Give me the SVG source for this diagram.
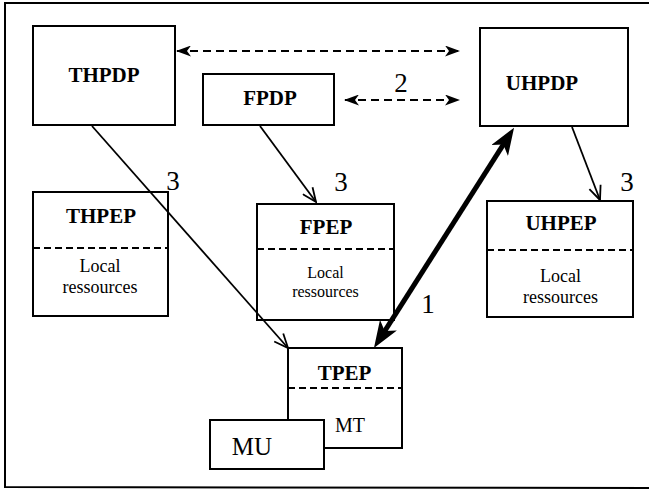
<svg xmlns="http://www.w3.org/2000/svg" width="649" height="490" viewBox="0 0 649 490">
<style>
.box{fill:#fff;stroke:#000;stroke-width:2}
.sep{stroke:#000;stroke-width:2;stroke-dasharray:7,4;fill:none}
.b{font-family:"Liberation Serif",serif;font-weight:bold;font-size:21px;text-anchor:middle;fill:#000}
.r{font-family:"Liberation Serif",serif;font-size:18px;text-anchor:middle;fill:#000}
.n{font-family:"Liberation Serif",serif;font-size:27px;text-anchor:middle;fill:#000}
.thin{stroke:#000;stroke-width:1.8;fill:none;marker-end:url(#open)}
.dash{stroke:#000;stroke-width:1.8;stroke-dasharray:8,5;fill:none;marker-start:url(#barb);marker-end:url(#barb)}
</style>
<defs>
<marker id="barb" viewBox="0 0 15 11" markerWidth="15" markerHeight="11" refX="14" refY="5.5" orient="auto-start-reverse" markerUnits="userSpaceOnUse">
<path d="M0,0 L15,5.5 L0,11 L4,5.5 z" fill="#000"/>
</marker>
<marker id="open" viewBox="0 0 16 14" markerWidth="16" markerHeight="14" refX="15" refY="7" orient="auto" markerUnits="userSpaceOnUse">
<path d="M1,1 L15,7 L1,13" fill="none" stroke="#000" stroke-width="1.8"/>
</marker>
<marker id="thick" viewBox="0 0 27 20" markerWidth="27" markerHeight="20" refX="12" refY="10" orient="auto-start-reverse" markerUnits="userSpaceOnUse">
<path d="M0,0 L27,10 L0,20 L7,10 z" fill="#000"/>
</marker>
</defs>
<rect width="649" height="490" fill="#fff"/>
<path d="M649,3 L5,3 L5,487 L649,488" fill="none" stroke="#000" stroke-width="2"/>

<g id="THPDP">
<rect class="box" x="33" y="26" width="142" height="99"/>
<text class="b" x="104" y="82">THPDP</text>
</g>
<g id="FPDP">
<rect class="box" x="203" y="74" width="131" height="51"/>
<text class="b" x="270" y="105">FPDP</text>
</g>
<g id="UHPDP">
<rect class="box" x="480" y="28" width="148" height="98"/>
<text class="b" x="542" y="90">UHPDP</text>
</g>
<g id="THPEP">
<rect class="box" x="33" y="192" width="135" height="124"/>
<line class="sep" x1="33" y1="248" x2="168" y2="248"/>
<text class="b" x="101" y="223">THPEP</text>
<text class="r" x="100" y="272">Local</text>
<text class="r" x="100" y="293">ressources</text>
</g>
<g id="FPEP">
<rect class="box" x="257" y="204" width="137" height="116"/>
<line class="sep" x1="257" y1="249" x2="394" y2="249"/>
<text class="b" x="326" y="234">FPEP</text>
<text class="r" x="325.5" y="278" style="font-size:16px">Local</text>
<text class="r" x="325.5" y="297" style="font-size:16px">ressources</text>
</g>
<g id="UHPEP">
<rect class="box" x="487" y="201" width="146" height="116"/>
<line class="sep" x1="487" y1="250" x2="633" y2="250"/>
<text class="b" x="561" y="230">UHPEP</text>
<text class="r" x="560.5" y="282">Local</text>
<text class="r" x="560.5" y="303">ressources</text>
</g>
<g id="TPEP">
<rect class="box" x="288" y="348" width="114" height="100"/>
<line class="sep" x1="288" y1="388" x2="402" y2="388"/>
<text class="b" x="344.5" y="380">TPEP</text>
<text class="r" x="350" y="432" style="font-size:20px">MT</text>
</g>
<g id="MU">
<rect class="box" x="210" y="420" width="114" height="49"/>
<text class="r" x="252" y="455" style="font-size:25px">MU</text>
</g>

<g id="connectors">
<line class="dash" x1="177" y1="51" x2="459" y2="51"/>
<line class="dash" x1="345" y1="100" x2="459" y2="100"/>
<line class="thin" x1="92" y1="126" x2="288" y2="348"/>
<line class="thin" x1="260" y1="126" x2="316" y2="202"/>
<line class="thin" x1="572" y1="127" x2="600" y2="200"/>
<line x1="382" y1="335.3" x2="506" y2="140.4" stroke="#000" stroke-width="5" marker-start="url(#thick)" marker-end="url(#thick)"/>
<text class="n" x="173" y="190">3</text>
<text class="n" x="341" y="191">3</text>
<text class="n" x="627" y="191">3</text>
<text class="n" x="401" y="92">2</text>
<text class="n" x="428" y="313">1</text>
</g>
</svg>
